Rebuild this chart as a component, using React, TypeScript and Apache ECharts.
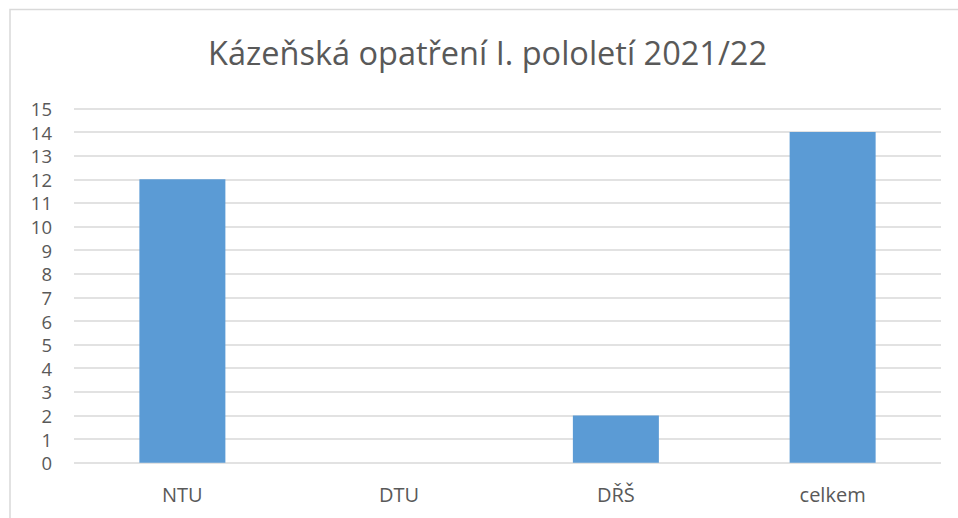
import React, { useEffect, useRef } from "react";
import * as echarts from "echarts";

const titleText = "Kázeňská opatření I. pololetí 2021/22";
const categories = ["NTU", "DTU", "DŘŠ", "celkem"];
const values = [12, 0, 2, 14];

export default function App() {
  const ref = useRef<HTMLDivElement>(null);
  useEffect(() => {
    if (!ref.current) return;
    const chart = echarts.init(ref.current, null, { renderer: "svg" });
    const font = "'Open Sans', sans-serif";
    chart.setOption({
      animation: false,
      backgroundColor: "#ffffff",
      graphic: [
        {
          type: "rect",
          shape: { x: 10, y: 9.5, width: 1000, height: 600 },
          style: { fill: "none", stroke: "#d9d9d9", lineWidth: 1.5 },
          z: -1,
        },
        {
          type: "text",
          x: 487.5,
          y: 52,
          style: {
            text: titleText,
            font: `32.5px ${font}`,
            fill: "#595959",
            textAlign: "center",
            textVerticalAlign: "middle",
          },
        },
      ],
      grid: { left: 74, right: 17, top: 108.5, bottom: 55.3, containLabel: false },
      xAxis: {
        type: "category",
        data: categories,
        axisLine: { show: false },
        axisTick: { show: false },
        axisLabel: {
          color: "#595959",
          fontSize: 20,
          fontFamily: font,
          margin: 22,
        },
      },
      yAxis: {
        type: "value",
        min: 0,
        max: 15,
        interval: 1,
        axisLine: { show: false },
        axisTick: { show: false },
        axisLabel: {
          color: "#595959",
          fontSize: 18.5,
          lineHeight: 19,
          fontFamily: font,
          margin: 22,
        },
        splitLine: { lineStyle: { color: "#d9d9d9", width: 1.5 } },
      },
      series: [
        {
          type: "bar",
          data: values,
          barWidth: 86,
          itemStyle: { color: "#5b9bd5" },
        },
      ],
    });
    return () => chart.dispose();
  }, []);
  return (
    <div
      ref={ref}
      style={{ position: "absolute", left: 0, top: 0, width: 958, height: 518 }}
    />
  );
}
